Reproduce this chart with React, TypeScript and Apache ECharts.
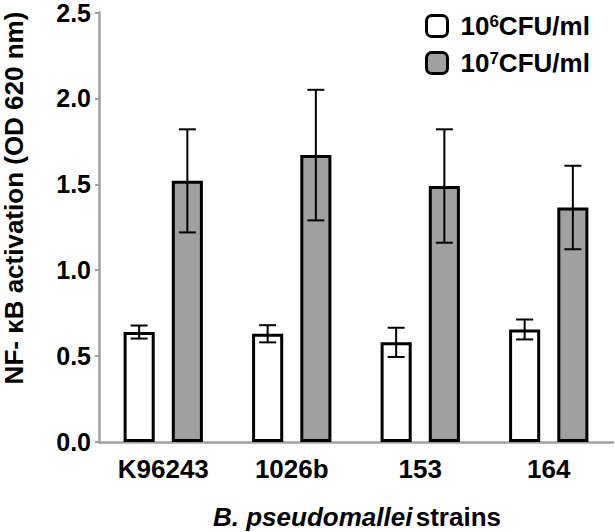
import React, { useEffect, useRef } from "react";
import * as echarts from "echarts";

const categories = ["K96243", "1026b", "153", "164"];
const low = [0.64, 0.63, 0.58, 0.655];
const lowErr = [0.038, 0.05, 0.085, 0.058];
const high = [1.52, 1.67, 1.49, 1.365];
const highErr = [0.3, 0.38, 0.33, 0.243];
const yTicks = [0, 0.5, 1.0, 1.5, 2.0, 2.5];

const BAR_W = 0.242;
const GAP = 0.55;

export default function App() {
  const ref = useRef<HTMLDivElement>(null);
  useEffect(() => {
    document.body.style.margin = "0";
    const chart = echarts.init(ref.current!, null, { renderer: "svg" });
    const font = "Arial, 'Liberation Sans', sans-serif";
    const errSeries = (vals: number[], errs: number[], dir: number) => ({
      type: "custom",
      z: 5,
      data: vals.map((v, i) => [i, v, errs[i]]),
      renderItem: (params: any, api: any) => {
        const i = api.value(0);
        const v = api.value(1);
        const e = api.value(2);
        const band = api.size([1, 0])[0];
        const bw = band * BAR_W;
        const off = dir * (bw + bw * GAP) / 2;
        const c = api.coord([i, v]);
        const x = c[0] + off;
        const top = api.coord([i, v + e])[1];
        const bot = api.coord([i, v - e])[1];
        const hw = 8.5;
        const style = { stroke: "#000", lineWidth: 2 };
        return {
          type: "group",
          children: [
            { type: "line", shape: { x1: x, y1: top, x2: x, y2: bot }, style },
            { type: "line", shape: { x1: x - hw, y1: top, x2: x + hw, y2: top }, style },
            { type: "line", shape: { x1: x - hw, y1: bot, x2: x + hw, y2: bot }, style },
          ],
        };
      },
    });
    chart.setOption({
      animation: false,
      textStyle: { fontFamily: font },
      grid: { left: 99, right: 2, top: 12, bottom: 90 },
      legend: {
        left: 420,
        top: 8,
        orient: "vertical",
        itemWidth: 21,
        itemHeight: 21,
        itemGap: 11,
        data: [
          { name: "low", itemStyle: { color: "#fff", borderColor: "#000", borderWidth: 3 } },
          { name: "high", itemStyle: { color: "#a0a0a0", borderColor: "#000", borderWidth: 3 } },
        ],
        formatter: (n: string) =>
          n === "low" ? "{n|10}{sup|6}{t|CFU/ml}" : "{n|10}{sup|7}{t|CFU/ml}",
        textStyle: {
          fontSize: 26,
          fontWeight: "bold",
          color: "#000",
          fontFamily: font,
          lineHeight: 26,
          rich: {
            n: { fontSize: 26, fontWeight: "bold", lineHeight: 26, padding: [0, 0, 0, 8], fontFamily: font },
            sup: { fontSize: 17, fontWeight: "bold", verticalAlign: "top", lineHeight: 26, fontFamily: font },
            t: { fontSize: 26, fontWeight: "bold", lineHeight: 26, fontFamily: font },
          },
        },
      },
      xAxis: {
        type: "category",
        data: categories,
        axisLine: { lineStyle: { color: "#a0a0a0", width: 2.5 } },
        axisTick: { alignWithLabel: true, length: 4, lineStyle: { color: "#a0a0a0", width: 2 } },
        axisLabel: { color: "#000", fontSize: 26, fontWeight: "bold", margin: 14, fontFamily: font },
      },
      yAxis: {
        type: "value",
        min: 0,
        max: 2.5,
        interval: 0.5,
        splitLine: { show: false },
        axisLine: { show: true, lineStyle: { color: "#a0a0a0", width: 2.5 } },
        axisTick: { show: true, length: 4, lineStyle: { color: "#a0a0a0", width: 2 } },
        axisLabel: {
          color: "#000",
          fontSize: 25,
          lineHeight: 20,
          fontWeight: "bold",
          margin: 8,
          fontFamily: font,
          formatter: (v: number) => (yTicks.includes(v) ? v.toFixed(1) : ""),
        },
      },
      graphic: [
        {
          type: "text",
          x: 14,
          y: 198,
          rotation: Math.PI / 2,
          style: {
            text: "NF- κB activation (OD 620 nm)",
            font: `bold 26px ${font}`,
            lineHeight: 24,
            fill: "#000",
            align: "center",
            verticalAlign: "middle",
          },
        },
        {
          type: "text",
          x: 357,
          y: 517,
          style: {
            text: "{i|B. pseudomallei} {n|strains}",
            align: "center",
            verticalAlign: "middle",
            rich: {
              i: { font: `italic bold 26px ${font}`, fill: "#000" },
              n: { font: `bold 26px ${font}`, fill: "#000" },
            },
          },
        },
      ],
      series: [
        {
          name: "low",
          type: "bar",
          data: low,
          barWidth: `${BAR_W * 100}%`,
          barGap: `${GAP * 100}%`,
          itemStyle: { color: "#fff", borderColor: "#000", borderWidth: 3 },
        },
        {
          name: "high",
          type: "bar",
          data: high,
          barWidth: `${BAR_W * 100}%`,
          barGap: `${GAP * 100}%`,
          itemStyle: { color: "#a0a0a0", borderColor: "#000", borderWidth: 3 },
        },
        errSeries(low, lowErr, -1),
        errSeries(high, highErr, 1),
      ],
    });
    return () => chart.dispose();
  }, []);
  return <div ref={ref} style={{ width: 615, height: 532 }} />;
}
